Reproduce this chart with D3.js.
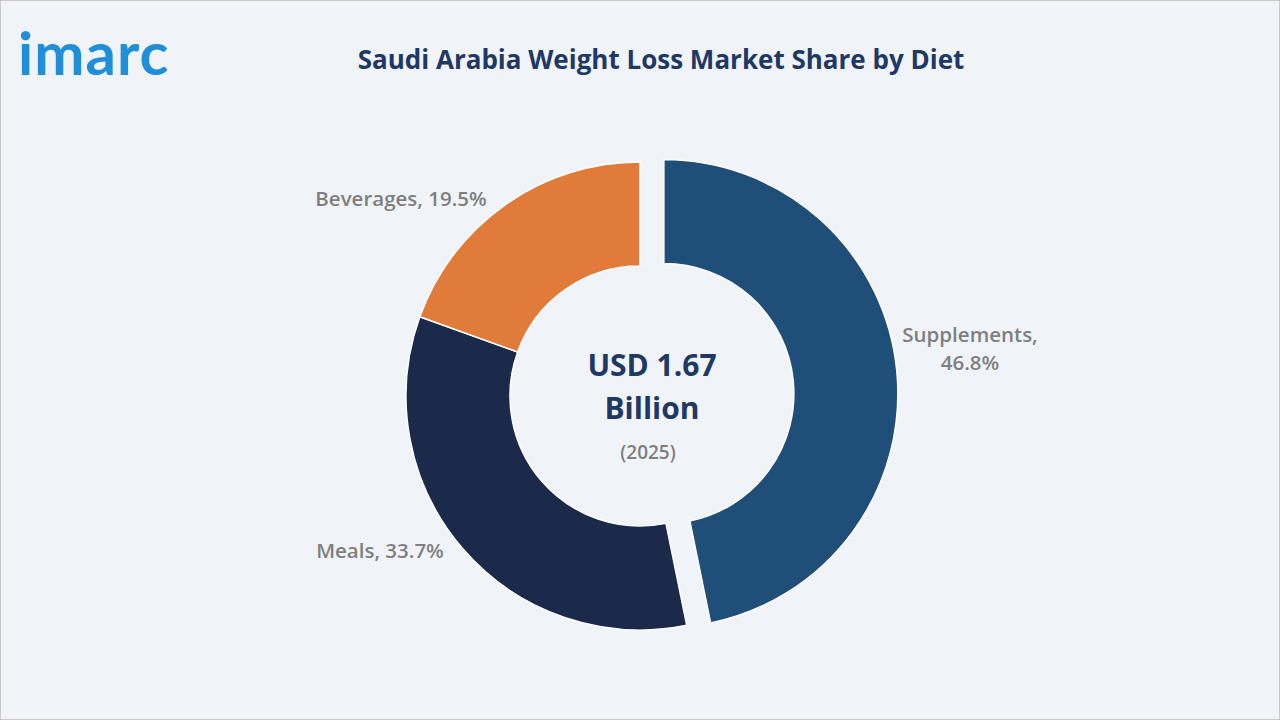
<!DOCTYPE html><html><head><meta charset="utf-8"><script src="https://cdn.jsdelivr.net/npm/d3@7"></script>
<style>body{margin:0;background:#fff}svg{display:block}</style></head><body><svg id="c" width="1280" height="720"></svg>
<script>
const categories=["Supplements","Meals","Beverages"];
const values=[46.8,33.7,19.5];
const colors=["#1f4e79","#1b2a4a","#e07b39"];
const svg=d3.select("#c");
svg.append("rect").attr("x",0.5).attr("y",0.5).attr("width",1279).attr("height",719).attr("fill","#f0f4f9").attr("stroke","#c8c8c8");
svg.append("text").attr("x",18).attr("y",75).attr("font-family","Lato, sans-serif").attr("font-weight",700).attr("font-size",60).attr("fill","#1e8fd8").attr("letter-spacing",1).text("imarc");
svg.append("text").attr("x",661).attr("y",69).attr("text-anchor","middle").attr("font-family","Open Sans, sans-serif").attr("font-weight",700).attr("font-size",26).attr("fill","#1f3864").text("Saudi Arabia Weight Loss Market Share by Diet");
const cx=640,cy=396,ro=234,ri=130;
const pie=d3.pie().sort(null)(values);
const arc=d3.arc().innerRadius(ri).outerRadius(ro);
const g=svg.append("g").attr("transform",`translate(${cx},${cy})`);
pie.forEach((d,i)=>{const off=i===0?24:0;const m=(d.startAngle+d.endAngle)/2;
 g.append("path").attr("d",arc(d)).attr("fill",colors[i]).attr("stroke","#fff").attr("stroke-width",1.5)
 .attr("transform",`translate(${off*Math.sin(m)},${-off*Math.cos(m)})`);});
const lab=[{x:970,y:342,l:["Supplements,","46.8%"]},{x:380,y:558,l:["Meals, 33.7%"]},{x:401,y:206,l:["Beverages, 19.5%"]}];
lab.forEach(o=>{const t=svg.append("text").attr("text-anchor","middle").attr("font-family","Open Sans, sans-serif").attr("font-weight",600).attr("font-size",20.5).attr("fill","#7f7f7f");
 o.l.forEach((s,k)=>t.append("tspan").attr("x",o.x).attr("y",o.y+k*28).text(s));});
svg.append("text").attr("x",652).attr("y",376).attr("text-anchor","middle").attr("font-family","Open Sans, sans-serif").attr("font-weight",700).attr("font-size",30).attr("fill","#1f3864").text("USD 1.67");
svg.append("text").attr("x",652).attr("y",419).attr("text-anchor","middle").attr("font-family","Open Sans, sans-serif").attr("font-weight",700).attr("font-size",30).attr("fill","#1f3864").text("Billion");
svg.append("text").attr("x",648).attr("y",459).attr("text-anchor","middle").attr("font-family","Open Sans, sans-serif").attr("font-weight",600).attr("font-size",19).attr("fill","#7f7f7f").text("(2025)");
</script></body></html>
